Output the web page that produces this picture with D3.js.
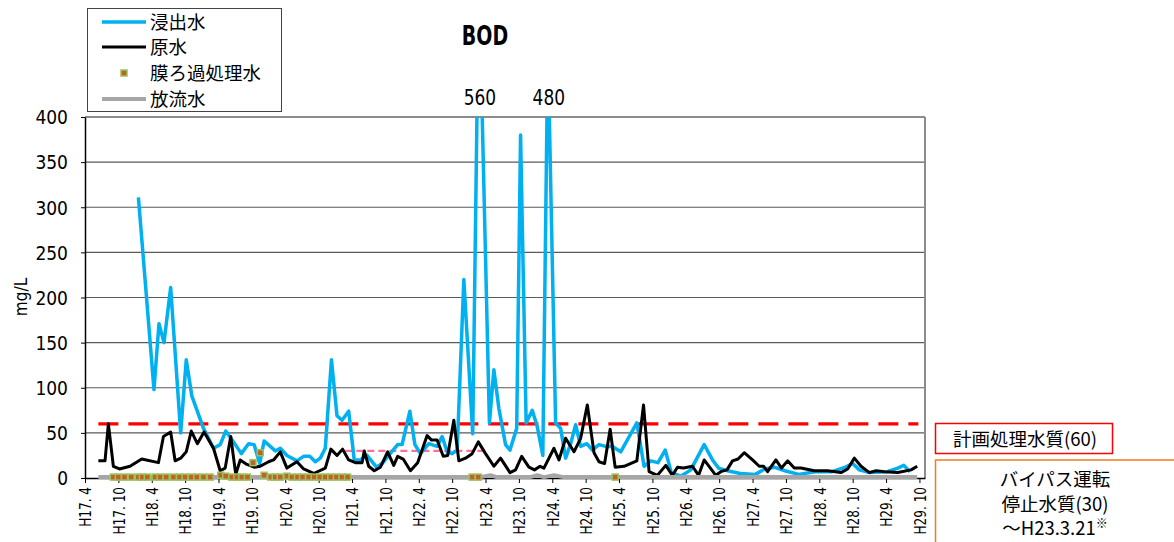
<!DOCTYPE html>
<html><head><meta charset="utf-8">
<script src="https://cdn.jsdelivr.net/npm/d3@7"></script>
<style>
body{margin:0;background:#fff}
svg{display:block}
.num{font-family:"Liberation Sans Narrow","DejaVu Sans Condensed","Liberation Sans",sans-serif}
.jp{font-family:"Noto Sans CJK JP","Noto Sans",sans-serif}
</style>
</head><body>
<svg id="c" width="1174" height="542"></svg>
<script>
// ---- data (x = months since H17.4) ----
const xTickMonths = [0,6,12,18,24,30,36,42,48,54,60,66,72,78,84,90,96,102,108,114,120,126,132,138,144,150];
const xTickLabels = ["H17. 4","H17. 10","H18. 4","H18. 10","H19. 4","H19. 10","H20. 4","H20. 10","H21. 4","H21. 10","H22. 4","H22. 10","H23. 4","H23. 10","H24. 4","H24. 10","H25. 4","H25. 10","H26. 4","H26. 10","H27. 4","H27. 10","H28. 4","H28. 10","H29. 4","H29. 10"];
const yTicks = [0,50,100,150,200,250,300,350,400];

const leachMonths = [9.6,12.4,13.3,14.2,15.4,17.2,18.2,19.2,21.3,23.1,24.3,25.3,26.7,28.1,29.4,30.4,31.4,32.2,33.3,34.2,35.1,36.3,38.1,39.3,40.4,41.4,42.3,43.2,44.3,45.3,46.2,47.4,48.4,49.5,50.7,52.4,53.4,54.6,56.2,57.0,58.4,59.3,60.3,61.8,63.3,64.2,65.1,66.0,66.9,68.1,69.7,70.8,72.7,73.5,74.4,75.6,76.4,77.6,78.3,79.3,80.4,81.3,82.3,83.2,84.6,85.5,86.4,87.3,88.2,89.1,90.2,91.2,92.4,93.6,94.8,96.3,99.2,100.5,101.7,103.0,104.3,105.4,107.1,108.9,111.3,112.8,113.9,115.5,117.8,120.5,122.2,123.9,125.8,128.3,131.3,134.3,136.7,138.0,139.2,141.0,144.2,146.1,147.2,148.3];
const leachValues = [311,98,171,150,211,50,131,91,55,33,37,52,40,27,38,37,16,41,35,30,33,25,19,24,24,18,22,33,131,69,64,74,20,20,25,12,16,25,37,37,74,37,27,38,35,46,29,27,31,220,49,560,61,120,77,37,31,55,380,61,75,57,25,480,61,55,22,38,59,35,38,31,37,35,35,29,61,13,19,17,31,6,2,9,37,20,11,8,5,4,10,12,8,4,7,7,12,16,9,6,7,11,14,7];

const rawMonths = [2.4,3.6,4.2,5.1,6.2,8.1,10.2,13.2,14.1,15.4,16.2,17.2,18.2,19.1,20.2,21.4,23.1,24.3,25.2,26.2,27.1,27.9,29.1,30.4,31.5,33.0,33.9,35.1,36.3,38.1,39.3,41.1,43.2,44.2,45.3,46.3,47.4,48.6,49.8,50.2,51.0,52.0,53.1,54.4,55.5,56.2,57.2,58.5,59.8,61.5,62.3,63.3,64.4,65.2,66.3,67.2,68.4,69.6,70.7,72.0,73.5,74.7,76.4,77.4,78.5,79.8,80.8,81.8,82.5,84.3,85.2,86.4,87.9,89.1,90.3,91.5,92.4,93.4,94.4,95.3,96.9,99.2,100.4,101.4,102.9,104.4,105.6,106.5,107.6,109.2,110.3,111.3,113.4,114.3,115.4,116.4,117.4,118.5,120.0,121.2,122.0,122.7,124.2,125.2,126.3,127.5,128.7,131.1,133.5,135.9,137.1,138.3,139.5,141.0,142.2,143.7,146.1,148.5,149.6];
const rawValues = [19,19,60,13,10,13,21,17,46,51,19,22,29,52,38,51,33,8,11,46,4,20,15,12,13,18,20,29,11,18,10,5,11,32,25,32,20,17,17,30,13,8,12,29,14,24,21,8,17,47,42,42,24,25,64,19,22,27,40,27,13,22,6,9,24,12,9,13,11,33,20,44,29,44,81,28,18,16,54,12,13,19,81,7,3,14,3,12,11,13,3,20,3,7,9,19,21,28,20,13,13,7,20,11,19,11,11,8,8,6,10,22,13,6,8,7,6,9,13];

const membraneMonths = [5.1,6.0,7.1,8.3,9.6,10.3,11.2,12.6,13.5,14.6,15.9,17.0,18.0,19.1,20.1,21.3,22.5,24.4,25.3,26.4,27.3,28.2,29.2,30.2,31.5,32.2,33.4,34.2,35.1,36.3,37.2,38.2,39.1,40.2,41.2,42.2,43.2,44.2,45.2,46.2,47.2,69.6,70.7,95.3];
const membraneValues = [1,1,1,1,1,1,1,1,1,1,1,1,1,1,1,1,1,3,2,1,1,1,1,17,28,3,1,1,1,2,1,1,1,1,1,1,1,1,1,1,1,1,1,1];

const dischargeMonths = [2.4,20,40,60,68,71,72.9,74,80,81.3,82.5,84.3,86,96,110,130,149.6];
const dischargeValues = [1,1,1,1,1,1,3,1,1,3,1,3,1,1,1,1,1];

const planLimit = 60, planStart = 2.4, planEnd = 149.8;
const bypassLimit = 30, bypassStart = 46.8, bypassEnd = 71.6;
const peakLabels = [{m:70.8, t:"560"},{m:83.2, t:"480"}];

const legendNames = ["浸出水","原水","膜ろ過処理水","放流水"];

// ---- chart ----
const svg = d3.select("#c");
const L=85, R=925, T=117, B=478;
const x = d3.scaleLinear().domain([0,151]).range([L,R]);
const y = d3.scaleLinear().domain([0,400]).range([B,T]);

svg.append("defs").append("clipPath").attr("id","plot")
  .append("rect").attr("x",L).attr("y",T).attr("width",R-L).attr("height",B-T);

// gridlines
svg.append("g").selectAll("line").data(yTicks.filter(d=>d>0)).join("line")
  .attr("x1",L).attr("x2",R).attr("y1",d=>y(d)).attr("y2",d=>y(d))
  .attr("stroke",d=>d===400?"#8c8c8c":"#5a5a5a").attr("stroke-width",d=>d===400?2:1.2);
svg.append("line").attr("x1",R).attr("x2",R).attr("y1",T).attr("y2",B)
  .attr("stroke","#8c8c8c").attr("stroke-width",2);

// y axis
const yAx = svg.append("g").attr("transform",`translate(${L},0)`)
  .call(d3.axisLeft(y).tickValues(yTicks).tickSize(4).tickSizeOuter(0));
yAx.select(".domain").attr("stroke","#000").attr("stroke-width",1.5);
yAx.selectAll(".tick line").attr("stroke","#000");
yAx.selectAll("text").attr("class","num").attr("font-size",19).attr("fill","#000").attr("x",-17).attr("dy","0.36em");

// x axis
const sx = 0.84;
const xAx = svg.append("g").attr("transform",`translate(0,${B})`)
  .call(d3.axisBottom(x).tickValues(xTickMonths).tickFormat((d,i)=>xTickLabels[i]).tickSize(5).tickSizeOuter(0));
xAx.select(".domain").attr("stroke","#000").attr("stroke-width",1.5);
xAx.selectAll(".tick line").attr("stroke","#000");
xAx.selectAll("text").attr("class","num").attr("font-size",16).attr("fill","#000")
  .attr("transform",`rotate(-90) scale(${sx},1)`).attr("text-anchor","end").attr("x",-9/sx).attr("y",0).attr("dy","0.36em");

// y label
svg.append("text").attr("class","num").attr("font-size",17)
  .attr("transform","translate(27,297) rotate(-90)").attr("text-anchor","middle").text("mg/L");

// title
svg.append("text").attr("class","num").attr("font-size",27).attr("font-weight","bold")
  .attr("transform","translate(485,45) scale(0.78,1)").attr("text-anchor","middle").text("BOD");

const plot = svg.append("g").attr("clip-path","url(#plot)");

plot.append("line").attr("x1",x(planStart)).attr("x2",x(planEnd)).attr("y1",y(planLimit)).attr("y2",y(planLimit))
  .attr("stroke","#ff0000").attr("stroke-width",3.2).attr("stroke-dasharray","20,10");
plot.append("line").attr("x1",x(bypassStart)).attr("x2",x(bypassEnd)).attr("y1",y(bypassLimit)).attr("y2",y(bypassLimit))
  .attr("stroke","#ff6f9c").attr("stroke-width",2.2).attr("stroke-dasharray","7,4");

const line = d3.line().x(d=>x(d[0])).y(d=>y(d[1]));

plot.append("path").datum(d3.zip(leachMonths,leachValues)).attr("d",line)
  .attr("fill","none").attr("stroke","#00b0f0").attr("stroke-width",3.5).attr("stroke-linejoin","round");
plot.append("path").datum(d3.zip(rawMonths,rawValues)).attr("d",line)
  .attr("fill","none").attr("stroke","#000").attr("stroke-width",3).attr("stroke-linejoin","round");
svg.append("path").datum(d3.zip(dischargeMonths,dischargeValues)).attr("d",line)
  .attr("fill","none").attr("stroke","#a6a6a6").attr("stroke-width",4).attr("stroke-linejoin","round");
svg.append("g").selectAll("rect").data(d3.zip(membraneMonths,membraneValues)).join("rect")
  .attr("x",d=>x(d[0])-3).attr("y",d=>y(d[1])-3).attr("width",6).attr("height",6)
  .attr("fill","#c0602a").attr("stroke","#9bc25a").attr("stroke-width",1.5);

svg.append("g").selectAll("text").data(peakLabels).join("text").attr("class","num")
  .attr("transform",d=>`translate(${x(d.m)+1},105) scale(0.9,1)`).attr("text-anchor","middle").attr("font-size",21).text(d=>d.t);

// legend
const lg = svg.append("g");
lg.append("rect").attr("x",87.5).attr("y",8.5).attr("width",194).attr("height",103)
  .attr("fill","#fff").attr("stroke","#444").attr("stroke-width",1);
const rowsY = [22,47,73,99];
lg.append("line").attr("x1",102).attr("x2",146).attr("y1",rowsY[0]).attr("y2",rowsY[0]).attr("stroke","#00b0f0").attr("stroke-width",3.5);
lg.append("line").attr("x1",102).attr("x2",146).attr("y1",rowsY[1]).attr("y2",rowsY[1]).attr("stroke","#000").attr("stroke-width",3);
lg.append("rect").attr("x",121).attr("y",rowsY[2]-3).attr("width",6).attr("height",6).attr("fill","#c0602a").attr("stroke","#9bc25a").attr("stroke-width",1.5);
lg.append("line").attr("x1",102).attr("x2",146).attr("y1",rowsY[3]).attr("y2",rowsY[3]).attr("stroke","#a6a6a6").attr("stroke-width",4);
lg.selectAll("text").data(legendNames).join("text").attr("class","jp").attr("font-size",18.5)
  .attr("x",150).attr("y",(d,i)=>rowsY[i]).attr("dy","0.36em").text(d=>d);

// annotation boxes
svg.append("rect").attr("x",935.5).attr("y",423.5).attr("width",177).attr("height",30)
  .attr("fill","#fff").attr("stroke","#ff0000").attr("stroke-width",1.5);
svg.append("text").attr("class","jp").attr("font-size",18.5).attr("x",1025).attr("y",439).attr("dy","0.36em")
  .attr("text-anchor","middle").text("計画処理水質(60)");
svg.append("rect").attr("x",935.5).attr("y",460).attr("width",260).attr("height",100)
  .attr("fill","#fff").attr("stroke","#f47b20").attr("stroke-width",1.5);
const ob = svg.append("g").attr("class","jp").attr("font-size",18.5).attr("text-anchor","middle");
ob.append("text").attr("x",1055).attr("y",479).attr("dy","0.36em").text("バイパス運転");
ob.append("text").attr("x",1055).attr("y",504).attr("dy","0.36em").text("停止水質(30)");
const t3 = ob.append("text").attr("x",1055).attr("y",528).attr("dy","0.36em");
t3.append("tspan").text("～H23.3.21");
t3.append("tspan").attr("font-size",12).attr("dy","-0.55em").text("※");
</script>
</body></html>
